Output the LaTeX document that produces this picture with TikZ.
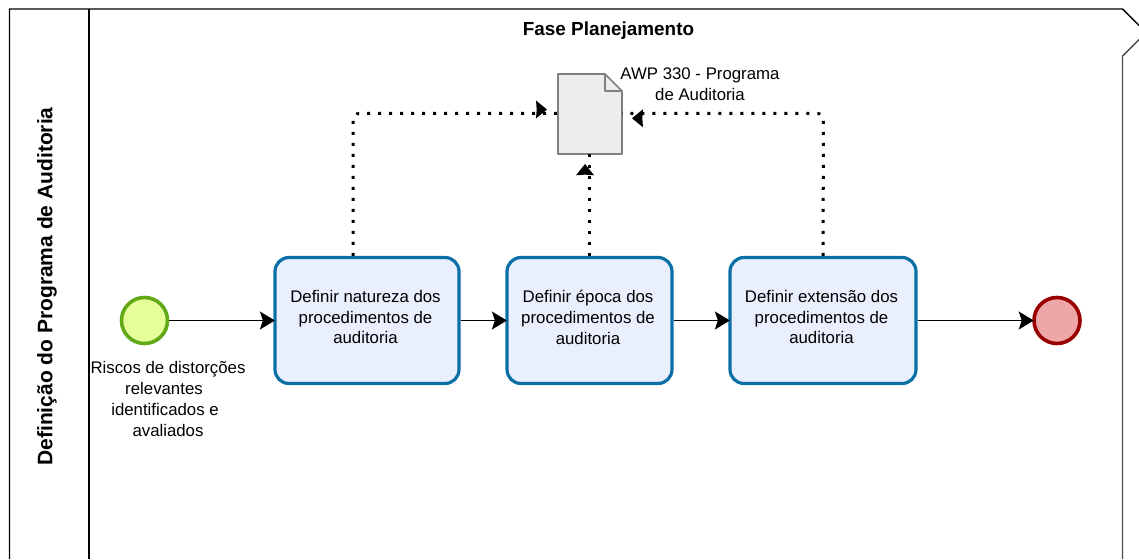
\documentclass[tikz,border=0pt]{standalone}
\usepackage{fontspec}
\setmainfont{Liberation Sans}
\usetikzlibrary{arrows.meta}
\definecolor{taskblue}{HTML}{0B70A6}
\definecolor{taskfill}{HTML}{EAEFFD}
\definecolor{startline}{HTML}{60A917}
\definecolor{startfill}{HTML}{E6FF99}
\definecolor{endline}{HTML}{990000}
\definecolor{endfill}{HTML}{EFA6A6}
\newcommand{\tasktext}[1]{\kern-3pt\raisebox{-1pt}[0pt][0pt]{\parbox[c]{160pt}{\centering #1}}}
\tikzset{
  x=1pt,y=-1pt,
  every node/.style={font=\fontsize{16.8}{20.8}\selectfont,text=black},
  lane/.style={draw=black,line width=1.4pt},
  taskbox/.style={draw=taskblue,fill=taskfill,line width=3.2pt,rounded corners=14pt,minimum height=126pt,align=center,inner sep=0pt},
  evstart/.style={circle,draw=startline,fill=startfill,line width=3.6pt,minimum size=46pt,inner sep=0pt},
  evend/.style={circle,draw=endline,fill=endfill,line width=3.6pt,minimum size=46pt,inner sep=0pt},
  flow/.style={draw=black,line width=1.5pt,shorten >=-1.5pt,-{Stealth[length=15pt,width=18pt,inset=3pt]}},
  assoc/.style={draw=black,line width=3pt,dash pattern=on 3pt off 8pt,rounded corners=6pt},
  labeltext/.style={align=center,inner sep=0pt}
}
\begin{document}
\begin{tikzpicture}
\useasboundingbox (0,0) rectangle (1139,559);
\fill[white] (0,0) rectangle (1139,559);
% lane outline
\draw[lane] (9.5,559) -- (9.5,9) -- (1122.5,9) -- (1139.5,26);
\draw[lane,draw=black!70] (1139.5,39) -- (1122.5,56) -- (1122.5,559);
\draw[lane] (89,9) -- (89,559);
\node[font=\fontsize{18.9}{20}\selectfont\bfseries] (title) at (608.5,31) {Fase Planejamento};
\node[font=\fontsize{21}{24}\selectfont\bfseries,rotate=90] (lanename) at (47,286.5) {Definição do Programa de Auditoria};
% nodes
\node[evstart] (start) at (144.5,320.5) {};
\node[evend] (end) at (1057,320.5) {};
\node[taskbox,minimum width=184pt] (t1) at (367,320.5) {\tasktext{Definir natureza dos\\procedimentos de\\auditoria}};
\node[taskbox,minimum width=165pt] (t2) at (589.5,320.5) {\tasktext{Definir época dos\\procedimentos de\\auditoria}};
\node[taskbox,minimum width=186pt] (t3) at (823,320.5) {\tasktext{Definir extensão dos\\procedimentos de\\auditoria}};
\node[labeltext] (risk) at (168,399) {Riscos de distorções\\relevantes\kern8pt\mbox{}\\identificados e\kern6pt\mbox{}\\avaliados};
\node[labeltext] (awp) at (700,84) {AWP 330 - Programa\\de Auditoria};
% document
\coordinate (docw) at (558,113.5);
\coordinate (doce) at (622,113.5);
\coordinate (docs) at (589.5,154);
\draw[draw=black!50,fill=black!7,line width=1.6pt,line join=round] (558,74) -- (605,74) -- (622,91) -- (622,154) -- (558,154) -- cycle;
\draw[draw=black!50,line width=1.6pt,line join=round] (605,74) -- (605,91) -- (622,91);
% flows
\draw[flow] (start) -- (t1);
\draw[flow] (t1) -- (t2);
\draw[flow] (t2) -- (t3);
\draw[flow] (t3) -- (end);
% associations
\draw[assoc] (t1.north -| 353,0) -- (353,113.5) -- (docw);
\draw[assoc] (t2.north) -- (docs);
\draw[assoc] (t3.north) -- (823.5,113.5) -- (doce);
% association heads
\fill[black] (547,109.5) -- (536,100.5) -- (536.7,109.5) -- (536,118.5) -- cycle;
\fill[black] (632,118.3) -- (643,109.3) -- (642.3,118.3) -- (643,127.3) -- cycle;
\fill[black] (585,164) -- (576,175.3) -- (585,174.6) -- (594,175.3) -- cycle;
\end{tikzpicture}
\end{document}
